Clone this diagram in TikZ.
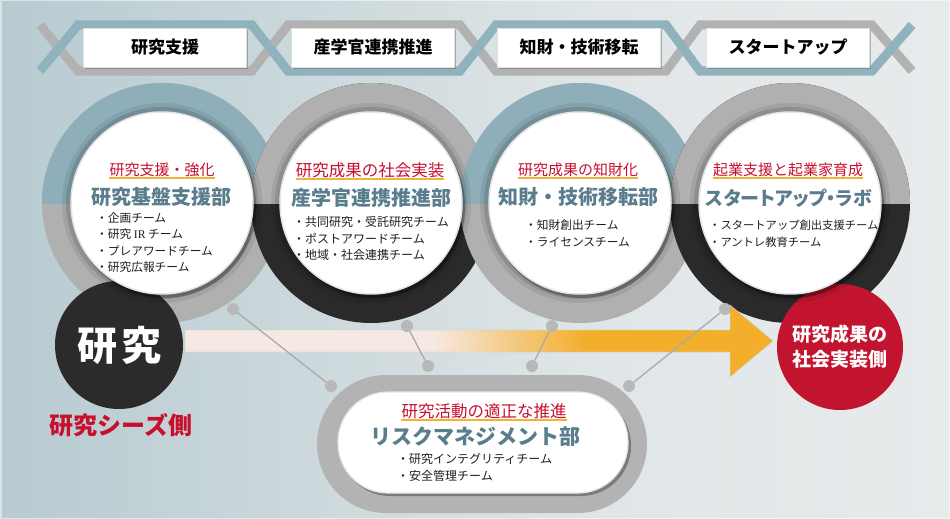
\documentclass[tikz,border=0pt]{standalone}
\usepackage{fontspec}
\setmainfont{Noto Sans CJK JP}
\newfontfamily\jppalt[RawFeature=+palt]{Noto Sans CJK JP}
\newfontfamily\enserif{Liberation Serif}
\usetikzlibrary{shadows,calc}

\definecolor{bgA}{HTML}{B7CBD1}
\definecolor{bgB}{HTML}{CDD9DC}
\definecolor{bgC}{HTML}{E0E6E8}
\definecolor{bgD}{HTML}{E8EBEC}
\definecolor{bandteal}{HTML}{8FB2BC}
\definecolor{bandgray}{HTML}{B2B2B2}
\definecolor{ringteal}{HTML}{8EAFB9}
\definecolor{ringgray}{HTML}{B0B0B0}
\definecolor{ringblack}{HTML}{2A2A2A}
\definecolor{jred}{HTML}{C8102E}
\definecolor{jtitle}{HTML}{5A7D8E}
\definecolor{uline}{HTML}{F2B233}
\definecolor{arrP}{HTML}{F6E9E4}
\definecolor{arrO}{HTML}{F3AF2B}
\definecolor{seedblack}{HTML}{2B2B2B}
\definecolor{outred}{HTML}{C3142F}
\definecolor{capgray}{HTML}{B3B3B3}
\definecolor{dotgray}{HTML}{B8B8B8}
\definecolor{linegray}{HTML}{AAAAAA}

\pgfdeclarehorizontalshading{bgshade}{100bp}{color(0bp)=(bgA); color(25bp)=(bgA); color(42bp)=(bgB); color(57bp)=(bgC); color(75bp)=(bgD); color(100bp)=(bgD)}
\pgfdeclarehorizontalshading{arrowshade}{100bp}{color(0bp)=(arrP); color(46bp)=(arrP); color(59bp)=(arrO); color(100bp)=(arrO)}

\begin{document}
\begin{tikzpicture}[x=1pt,y=-1pt,
  strand/.style={line width=9pt, line join=miter},
  bandbox/.style={draw=black!12, fill=white, minimum width=163pt, minimum height=39pt, inner sep=0pt,
    drop shadow={shadow xshift=1pt, shadow yshift=-2.5pt, opacity=0.45, fill=black!60},
    font=\bfseries\fontsize{17}{17}\selectfont},
  disc/.style={circle, fill=white, draw=black!10, line width=1.5pt, minimum size=182pt, inner sep=0pt},
  redhead/.style={text=jred, font=\fontsize{15}{15}\selectfont, inner sep=0pt},
  dtitle/.style={text=jtitle, font=\bfseries\fontsize{20}{20}\selectfont, inner sep=0pt},
  item/.style={text=black!88, font=\fontsize{11.7}{12}\selectfont, anchor=west, inner sep=0pt},
  ulinestyle/.style={draw=uline, line width=2pt},
  dot/.style={circle, fill=dotgray, minimum size=12pt, inner sep=0pt},
  conn/.style={draw=linegray, line width=1.3pt},
]
\useasboundingbox (0,0) rectangle (950,519);
\shade[shading=bgshade] (0,0) rectangle (950,519);
\draw[white, opacity=0.5, line width=1.5pt] (0.75,0.75) rectangle (949.25,518.25);

% top band strands
\draw[strand, bandgray] (40,25) -- (78,71) -- (252,71) -- (288,25) -- (460,25) -- (496,71) -- (666,71) -- (700,25) -- (872,25) -- (912,71);
\draw[strand, bandteal] (40,71) -- (78,25) -- (252,25) -- (288,71) -- (460,71) -- (496,25) -- (666,25) -- (700,71) -- (872,71) -- (912,25);

\node[bandbox] (b1) at (165,47.5) {研究支援};
\node[bandbox] (b2) at (373,47.5) {産学官連携推進};
\node[bandbox] (b3) at (579,47.5) {知財・技術移転};
\node[bandbox] (b4) at (788,47.5) {スタートアップ};

% big rings
\foreach \cx/\tc/\bc in {162/ringteal/ringgray, 371/ringgray/ringblack, 580/ringteal/ringgray, 790/ringgray/ringblack} {
  \fill[\bc] (\cx,203) circle[radius=120];
  \begin{scope}
    \clip (\cx-125,78) rectangle (\cx+125,203);
    \fill[\tc] (\cx,203) circle[radius=120];
  \end{scope}
}

% research seed circle and outcome circle
\node[circle, fill=seedblack, minimum size=128pt, inner sep=0pt, text=white,
  font=\bfseries\fontsize{40}{40}\selectfont] (seed) at (119,345) {研\hspace{4pt}究};
\node[circle, fill=outred, minimum size=126pt, inner sep=0pt, text=white, align=center,
  font=\bfseries\fontsize{19}{25}\selectfont] (outc) at (840,347) {研究成果の\\社会実装側};

% halos / shadows of discs
\foreach \cx in {162,371,580,790} {
  \fill[black, opacity=0.08] (\cx,203) circle[radius=100];
  \fill[black, opacity=0.12] (\cx,203) circle[radius=96];
  \fill[black, opacity=0.28] (\cx+2,206) circle[radius=92];
}
\node[disc] (c1) at (162,203) {};
\node[disc] (c2) at (371,203) {};
\node[disc] (c3) at (580,203) {};
\node[disc] (c4) at (790,203) {};

% circle 1
\node[redhead] (r1) at (162,170) {研究支援・強化};
\draw[ulinestyle] ([yshift=-2.5pt]r1.base west) -- ([yshift=-2.5pt]r1.base east);
\node[dtitle] (t1) at (161,197) {研究基盤支援部};
\node[item] (i11) at (96,218) {・企画チーム};
\node[item] (i12) at (96,234.5) {・研究 {\enserif IR} チーム};
\node[item] (i13) at (96,251) {・プレアワードチーム};
\node[item] (i14) at (96,267) {・研究広報チーム};

% circle 2
\node[redhead, font=\fontsize{16.5}{16.5}\selectfont] (r2) at (370,170) {研究成果の社会実装};
\draw[ulinestyle] ([yshift=-2.5pt]r2.base west) -- ([yshift=-2.5pt]r2.base east);
\node[dtitle] (t2) at (371,198) {産学官連携推進部};
\node[item, font=\fontsize{12}{12}\selectfont] (i21) at (293,222) {・共同研究・受託研究チーム};
\node[item, font=\fontsize{12}{12}\selectfont] (i22) at (293,238.5) {・ポストアワードチーム};
\node[item, font=\fontsize{12}{12}\selectfont] (i23) at (293,255) {・地域・社会連携チーム};

% circle 3
\node[redhead] (r3) at (578,170) {研究成果の知財化};
\draw[ulinestyle] ([yshift=-2.5pt]r3.base west) -- ([yshift=-2.5pt]r3.base east);
\node[dtitle] (t3) at (578,197) {知財・技術移転部};
\node[item] (i31) at (525,225.5) {・知財創出チーム};
\node[item] (i32) at (525,242.5) {・ライセンスチーム};

% circle 4
\node[redhead] (r4) at (788,170) {起業支援と起業家育成};
\draw[ulinestyle] ([yshift=-2.5pt]r4.base west) -- ([yshift=-2.5pt]r4.base east);
\node[dtitle, font=\jppalt\bfseries\fontsize{19}{19}\selectfont] (t4) at (789,198) {スタートアップ・ラボ};
\node[item, font=\fontsize{11.3}{12}\selectfont] (i41) at (709,225.5) {・スタートアップ創出支援チーム};
\node[item, font=\fontsize{11.3}{12}\selectfont] (i42) at (709,242.5) {・アントレ教育チーム};

% seeds label
\node[text=jred, font=\bfseries\fontsize{24}{24}\selectfont, inner sep=0pt] (seedlbl) at (121,425) {研究シーズ側};

% big arrow
\path[shading=arrowshade, draw=black!18, line width=0.8pt, draw opacity=0.6]
  (185,330) -- (730,330) -- (730,305) -- (773,341) -- (730,377) -- (730,352) -- (185,352) -- cycle;

% risk management capsule
\fill[capgray, rounded corners=69pt] (317,375) rectangle (647,513);
\fill[black, opacity=0.3, rounded corners=50pt] (340,395) rectangle (631,496);
\fill[white, draw=black!10, line width=1.2pt, rounded corners=50pt] (338,392) rectangle (628,493);
\node[redhead, font=\fontsize{16.5}{16.5}\selectfont] (r5) at (484,411) {研究活動の適正な推進};
\draw[ulinestyle] ([yshift=-2.5pt]r5.base west) -- ([yshift=-2.5pt]r5.base east);
\node[dtitle, font=\bfseries\fontsize{21}{21}\selectfont] (t5) at (475,437) {リスクマネジメント部};
\node[item, font=\fontsize{12}{12}\selectfont] (i51) at (397,459) {・研究インテグリティチーム};
\node[item, font=\fontsize{12}{12}\selectfont] (i52) at (397,476) {・安全管理チーム};

% connectors
\node[dot] (d1a) at (233,309) {};
\node[dot] (d1b) at (331,386) {};
\node[dot] (d2a) at (407,326) {};
\node[dot] (d2b) at (428,366) {};
\node[dot] (d3a) at (552,326) {};
\node[dot] (d3b) at (532,366) {};
\node[dot] (d4a) at (725,309) {};
\node[dot] (d4b) at (629,386) {};
\draw[conn] (d1a) -- (d1b);
\draw[conn] (d2a) -- (d2b);
\draw[conn] (d3a) -- (d3b);
\draw[conn] (d4a) -- (d4b);
\end{tikzpicture}
\end{document}
